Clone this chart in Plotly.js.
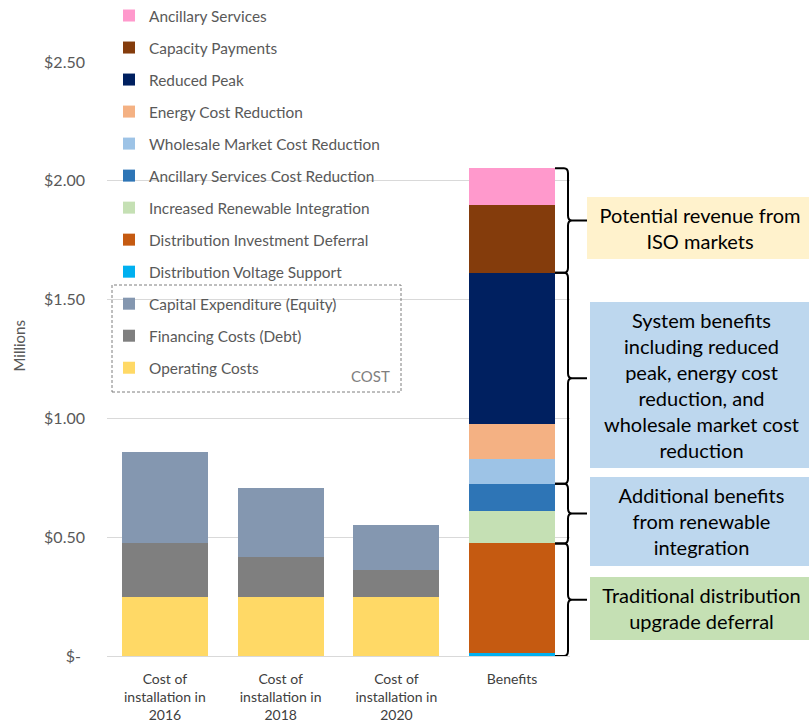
<!DOCTYPE html>
<html>
<head>
<meta charset="utf-8">
<script src="https://cdn.plot.ly/plotly-3.0.1.min.js"></script>
<style>html,body{margin:0;padding:0;background:#fff}#chart{width:809px;height:724px}</style>
</head>
<body>
<div id="chart"></div>
<script>
// ---- data (millions of $) ----
const costCategories = ["Cost of<br>installation in<br>2016", "Cost of<br>installation in<br>2018", "Cost of<br>installation in<br>2020"];
const benefitCategory = ["Benefits"];
const operatingCosts = [0.25, 0.25, 0.25];
const financingCosts = [0.225, 0.167, 0.112];
const capitalExpenditure = [0.383, 0.288, 0.191];

const benefitNames = ["Distribution Voltage Support", "Distribution Investment Deferral", "Increased Renewable Integration",
  "Ancillary Services Cost Reduction", "Wholesale Market Cost Reduction", "Energy Cost Reduction",
  "Reduced Peak", "Capacity Payments", "Ancillary Services"];
const benefitValues = [0.014, 0.46, 0.136, 0.115, 0.104, 0.146, 0.638, 0.285, 0.155];
const benefitColors = ["#00B0F0", "#C55A11", "#C5E0B4", "#2E75B6", "#9DC3E6", "#F4B183", "#002060", "#843C0C", "#FF99CC"];

const yTickVals = [0, 0.5, 1, 1.5, 2, 2.5];
const yTickText = ["$-\u00a0", "$0.50", "$1.00", "$1.50", "$2.00", "$2.50"];

// groups of benefit segments bracketed on the right (index ranges into benefitValues)
const braceGroups = [[0, 1], [2, 3], [4, 6], [7, 8]];
const braceTexts = ["Traditional distribution<br>upgrade deferral",
  "Additional benefits<br>from renewable<br>integration",
  "System benefits<br>including reduced<br>peak, energy cost<br>reduction, and<br>wholesale market cost<br>reduction",
  "Potential revenue from<br>ISO markets"];
const braceBoxColors = ["#C5E0B4", "#BDD7EE", "#BDD7EE", "#FFF2CC"];

// ---- layout geometry ----
const W = 809, H = 724;
const M = {l: 107, r: 239, t: 62, b: 68, autoexpand: false};
const plotW = W - M.l - M.r, plotH = H - M.t - M.b;
const yMax = 2.5;
const px2x = p => (p - M.l) / plotW;          // pixel -> paper x
const px2y = p => (H - M.b - p) / plotH;      // pixel -> paper y
const dy = p => p * yMax / plotH;             // pixel length -> data y

const fontFam = "Lato, 'Open Sans', sans-serif";

const traces = [];
let g = 0;
const nTraces = 3 + benefitNames.length;
function addTrace(name, x, y, color) {
  traces.push({type: "bar", name: name, x: x, y: y, marker: {color: color, line: {width: 0}},
    legendgroup: "g" + g, legendrank: nTraces - g, hoverinfo: "name+y"});
  g++;
}
addTrace("Operating Costs", costCategories, operatingCosts, "#FFD966");
addTrace("Financing Costs (Debt)", costCategories, financingCosts, "#7F7F7F");
addTrace("Capital Expenditure (Equity)", costCategories, capitalExpenditure, "#8497B0");
benefitNames.forEach((n, i) => addTrace(n, benefitCategory, [benefitValues[i]], benefitColors[i]));

// braces
const cum = [0];
benefitValues.forEach(v => cum.push(cum[cum.length - 1] + v));
const shapes = [];
const annotations = [];
const barRight = px2x(555), xv = px2x(568), xt = px2x(587), rx = px2x(107 + 4) - px2x(107);
const ry = dy(5);
// box geometry (pixel) [top, bottom]
const boxPx = [[576.7, 639.3], [477.3, 566], [302.7, 468.3], [197.3, 259.3]];
braceGroups.forEach((gr, k) => {
  const B = cum[gr[0]], T = cum[gr[1] + 1], Mid = (B + T) / 2;
  const p = `M${barRight},${T} L${xv - rx},${T} Q${xv},${T} ${xv},${T - ry} L${xv},${Mid + ry} Q${xv},${Mid} ${xv + rx},${Mid} L${xt},${Mid} ` +
            `M${xv + rx},${Mid} Q${xv},${Mid} ${xv},${Mid - ry} L${xv},${B + ry} Q${xv},${B} ${xv - rx},${B} L${barRight},${B}`;
  shapes.push({type: "path", xref: "paper", yref: "y", path: p, line: {color: "#000", width: 2}, layer: "above"});
  const top = boxPx[k][0], bot = boxPx[k][1];
  const left = k === 3 ? 587 : 590;
  annotations.push({xref: "paper", yref: "paper", x: px2x((left + 813) / 2), y: px2y((top + bot) / 2),
    xanchor: "center", yanchor: "middle", showarrow: false, text: braceTexts[k], align: "center",
    width: 813 - left, height: bot - top, bgcolor: braceBoxColors[k], borderpad: 0, borderwidth: 0,
    font: {family: fontFam, size: 20, color: "#000"}});
});

// COST dashed box around the cost legend entries
shapes.push({type: "rect", xref: "paper", yref: "paper", x0: px2x(112), x1: px2x(401), y0: px2y(392), y1: px2y(285),
  line: {color: "#7F7F7F", width: 1, dash: "3px,2px"}, fillcolor: "rgba(0,0,0,0)"});
annotations.push({xref: "paper", yref: "paper", x: px2x(392), y: px2y(376), xanchor: "right", yanchor: "middle",
  showarrow: false, text: "COST", font: {family: fontFam, size: 15, color: "#7F7F7F"}});
annotations.push({xref: "paper", yref: "paper", x: px2x(18.5), y: px2y(346), xanchor: "center", yanchor: "middle",
  showarrow: false, text: "Millions", textangle: -90, font: {family: fontFam, size: 15, color: "#595959"}});

const layout = {
  width: W, height: H, margin: M, paper_bgcolor: "#fff", plot_bgcolor: "#fff",
  barmode: "stack", bargap: 0.255,
  font: {family: fontFam, color: "#595959"},
  showlegend: true,
  legend: {x: px2x(109), y: px2y(-1), xanchor: "left", yanchor: "top", bgcolor: "rgba(0,0,0,0)",
    maxheight: 460,
    traceorder: "grouped", tracegroupgap: 9.0, font: {family: fontFam, size: 15.4, color: "#595959"}},
  xaxis: {type: "category", categoryorder: "array", categoryarray: costCategories.concat(benefitCategory),
    showgrid: false, showline: true, linecolor: "#D9D9D9", linewidth: 1, ticks: "",
    ticklabelstandoff: 10,
    tickfont: {family: fontFam, size: 14, color: "#404040"}, fixedrange: true},
  yaxis: {range: [0, yMax], tickvals: yTickVals, ticktext: yTickText, showgrid: true, gridcolor: "#D9D9D9",
    zeroline: false, showline: false, ticks: "", tickfont: {family: fontFam, size: 16, color: "#595959"},
    ticklabelstandoff: 21, fixedrange: true},
  shapes: shapes,
  annotations: annotations
};
Plotly.newPlot("chart", traces, layout, {displayModeBar: false, staticPlot: true});
</script>
</body>
</html>
